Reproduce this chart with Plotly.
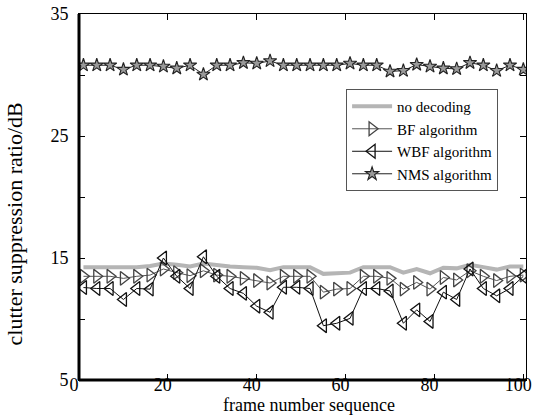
import plotly.graph_objects as go

frames = [1, 4, 7, 10, 13, 16, 19, 22, 25, 28, 31, 34, 37, 40, 43, 46, 49, 52, 55, 58,
          61, 64, 67, 70, 73, 76, 79, 82, 85, 88, 91, 94, 97, 100]

no_decoding = [14.25, 14.25, 14.25, 14.2, 14.25, 14.35, 14.55, 14.45, 14.3, 14.55, 14.4, 14.3,
               14.25, 14.2, 14.0, 14.25, 14.25, 14.25, 13.7, 13.75, 13.8, 14.25, 14.25, 14.25,
               13.8, 14.1, 13.75, 14.2, 14.15, 14.45, 14.25, 14.05, 14.3, 14.3]

bf = [13.5, 13.5, 13.5, 13.33, 13.5, 13.6, 14.1, 13.8, 13.55, 13.95, 13.6, 13.5,
      13.33, 13.15, 12.95, 13.5, 13.5, 13.5, 12.2, 12.45, 12.5, 13.5, 13.5, 13.33,
      12.45, 13.0, 12.45, 13.4, 13.2, 13.95, 13.5, 13.15, 13.5, 13.6]

wbf = [12.58, 12.5, 12.5, 11.6, 12.5, 12.45, 15.0, 13.5, 12.5, 15.1, 13.5, 12.5,
       12.1, 11.05, 10.55, 12.6, 12.6, 12.5, 9.45, 9.65, 10.05, 12.5, 12.5, 12.3,
       9.65, 10.75, 9.8, 12.2, 11.6, 14.1, 12.5, 11.9, 12.5, 13.5]

nms = [30.8, 30.8, 30.8, 30.45, 30.8, 30.8, 30.7, 30.55, 30.8, 30.05, 30.8, 30.8,
       31.0, 30.95, 31.15, 30.8, 30.8, 30.8, 30.8, 30.8, 30.95, 30.8, 30.8, 30.3,
       30.35, 30.85, 30.7, 30.55, 30.5, 31.0, 30.8, 30.35, 30.8, 30.45]

y_tickvals = [5, 10, 15, 20, 25, 30, 35]
y_ticktext = ["5", "", "15", "", "25", "", "35"]
x_tickvals = [0, 20, 40, 60, 80, 100]

x_title = "frame number sequence"
y_title = "clutter suppression ratio/dB"

font_family = "Liberation Serif, Times New Roman, serif"

fig = go.Figure()
fig.add_trace(go.Scatter(x=frames, y=no_decoding, mode="lines", name="no decoding",
                         line=dict(color="#b5b5b5", width=4)))
fig.add_trace(go.Scatter(x=frames, y=bf, mode="lines+markers", name="BF algorithm",
                         line=dict(color="#555555", width=1),
                         marker=dict(symbol="triangle-right-open", size=12,
                                     color="#444444", line=dict(width=1.3))))
fig.add_trace(go.Scatter(x=frames, y=wbf, mode="lines+markers", name="WBF algorithm",
                         line=dict(color="#111111", width=1),
                         marker=dict(symbol="triangle-left-open", size=12,
                                     color="#111111", line=dict(width=1.3))))
fig.add_trace(go.Scatter(x=frames, y=nms, mode="lines+markers", name="NMS algorithm",
                         line=dict(color="#222222", width=1),
                         marker=dict(symbol="star", size=10, color="#9a9a9a",
                                     line=dict(color="#222222", width=1.1))))

fig.update_layout(
    width=535, height=417,
    margin=dict(l=79, r=9, t=14, b=37, autoexpand=False),
    paper_bgcolor="white", plot_bgcolor="white",
    font=dict(family=font_family, size=18, color="black"),
    showlegend=True,
    legend=dict(x=0.5975, y=0.795, xanchor="left", yanchor="top",
                bgcolor="white", bordercolor="#555555", borderwidth=1,
                font=dict(size=15), tracegroupgap=0, itemwidth=40),
    xaxis=dict(range=[0, 100.6], tickvals=x_tickvals, ticks="inside", ticklen=6,
               tickcolor="black", showgrid=False, zeroline=False, showline=True,
               linecolor="black", linewidth=1, mirror="ticks", automargin=False,
               ticklabelstandoff=-12, ticklabelshift=-5, ticklabeloverflow="allow",
               tickfont=dict(size=18)),
    yaxis=dict(range=[5, 35], tickvals=y_tickvals, ticktext=y_ticktext, ticks="inside",
               ticklen=6, tickcolor="black", showgrid=False, zeroline=False, showline=True,
               linecolor="black", linewidth=1, mirror="ticks", automargin=False,
               ticklabelstandoff=6, ticklabeloverflow="allow", tickfont=dict(size=18)),
    annotations=[
        dict(text=x_title, xref="paper", yref="paper", x=0.515, y=0, xanchor="center",
             yanchor="top", yshift=-13, showarrow=False, font=dict(size=18)),
        dict(text=y_title, xref="paper", yref="paper", x=0, y=0.425, xanchor="center",
             yanchor="middle", xshift=-65, textangle=-90, showarrow=False,
             font=dict(size=22)),
    ],
    shapes=[
        dict(type="line", xref="paper", yref="paper", x0=0, x1=0, y0=0, y1=1,
             line=dict(color="black", width=3)),
        dict(type="line", xref="paper", yref="paper", x0=0, x1=1, y0=0, y1=0,
             line=dict(color="black", width=3)),
    ],
)

# remove the default 8px page margin so the figure sits at the window's corner
fig.write_html("out.html", config={"displayModeBar": False},
               post_script="document.body.style.margin='0px';")
